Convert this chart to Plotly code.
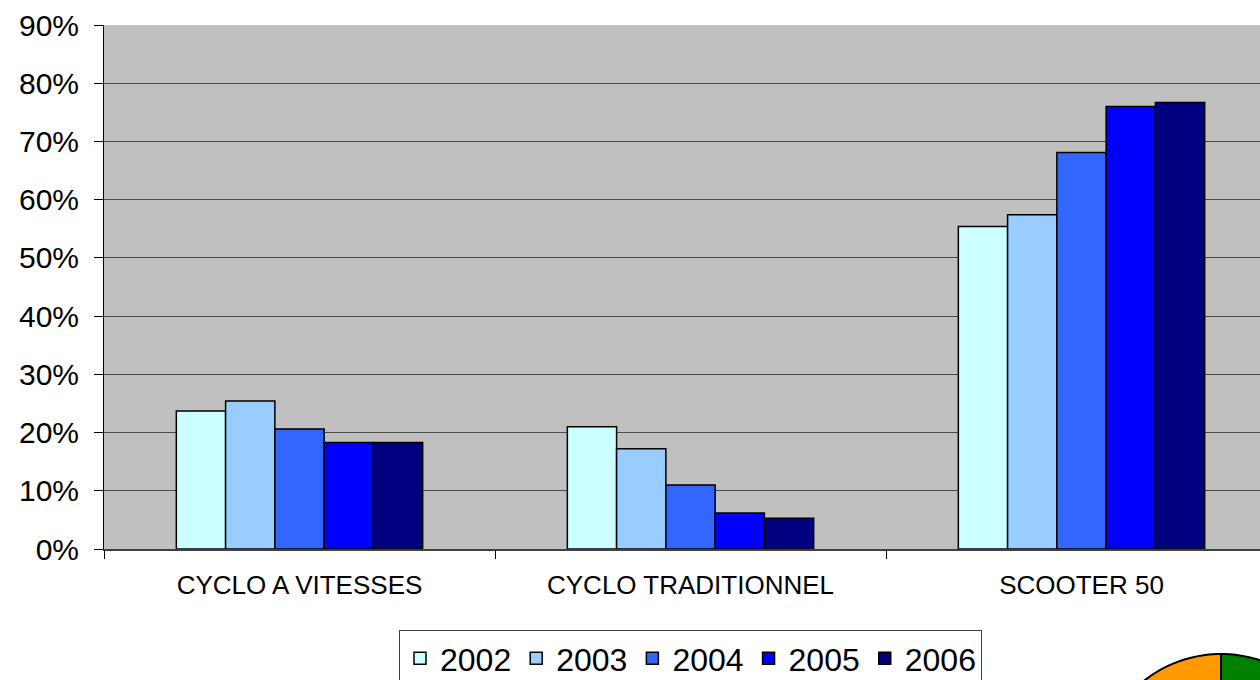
import numpy as np
import plotly.graph_objects as go

categories = ["CYCLO A VITESSES", "CYCLO TRADITIONNEL", "SCOOTER 50"]
years = ["2002", "2003", "2004", "2005", "2006"]
values = {
    "2002": [0.237, 0.210, 0.554],
    "2003": [0.254, 0.172, 0.574],
    "2004": [0.206, 0.110, 0.681],
    "2005": [0.183, 0.062, 0.760],
    "2006": [0.183, 0.053, 0.767],
}
colors = ["#CCFFFF", "#99CCFF", "#3366FF", "#0000FF", "#000080"]
y_ticks = [0, 0.1, 0.2, 0.3, 0.4, 0.5, 0.6, 0.7, 0.8, 0.9]

W, H = 1260, 680
ML, MR, MT, MB = 104, 0, 25, 131

fig = go.Figure()
for yr, col in zip(years, colors):
    fig.add_trace(go.Bar(
        name=yr, x=categories, y=values[yr],
        marker=dict(color=col, line=dict(color="black", width=1.5)),
    ))

# decorative partially visible pie at bottom-right corner (clipped by page)
pw, ph = W - ML - MR, H - MT - MB
def to_paper(px, py):
    return (px - ML) / pw, (H - MB - py) / ph
cx, cy, r = 1221, 778, 124
def wedge(a0, a1):
    angs = np.linspace(np.radians(a0), np.radians(a1), 60)
    pts = [to_paper(cx, cy)] + [to_paper(cx + r*np.cos(a), cy - r*np.sin(a)) for a in angs]
    return "M " + " L ".join(f"{x:.5f},{y:.5f}" for x, y in pts) + " Z"
fig.add_shape(type="path", xref="paper", yref="paper", path=wedge(90, 200),
              fillcolor="#FF9900", line=dict(color="black", width=2), layer="above")
fig.add_shape(type="path", xref="paper", yref="paper", path=wedge(-20, 90),
              fillcolor="#008000", line=dict(color="black", width=2), layer="above")

fig.update_layout(
    width=W, height=H,
    margin=dict(l=ML, r=MR, t=MT, b=MB, pad=0),
    paper_bgcolor="white", plot_bgcolor="#C0C0C0",
    barmode="group", bargap=0.37, bargroupgap=0,
    font=dict(family="Liberation Sans, Arial, sans-serif", color="black"),
    showlegend=True,
    legend=dict(
        orientation="h", xref="container", yref="container",
        x=690.5 / W, xanchor="center", y=1 - 630 / H, yanchor="top",
        bgcolor="white", bordercolor="#404040", borderwidth=1,
        font=dict(size=32), itemwidth=30, tracegroupgap=0,
    ),
    xaxis=dict(
        range=[-0.5, 2.5 - 17/391], showgrid=False,
        showline=True, linecolor="#404040", linewidth=2,
        ticks="outside", tickson="boundaries", ticklen=8, tickcolor="black",
        tickfont=dict(size=26), ticklabelstandoff=12,
    ),
    yaxis=dict(
        range=[0, 0.9], tickvals=y_ticks, tickformat=".0%",
        showgrid=True, gridcolor="#4a4a4a", gridwidth=1,
        showline=True, linecolor="black", linewidth=1,
        ticks="outside", ticklen=9, tickcolor="black",
        tickfont=dict(size=30), ticklabelstandoff=9, zeroline=False,
    ),
)

fig.write_html(
    "out.html",
    config={"displayModeBar": False},
    post_script="document.body.style.margin='0';document.body.style.overflow='hidden';",
)
